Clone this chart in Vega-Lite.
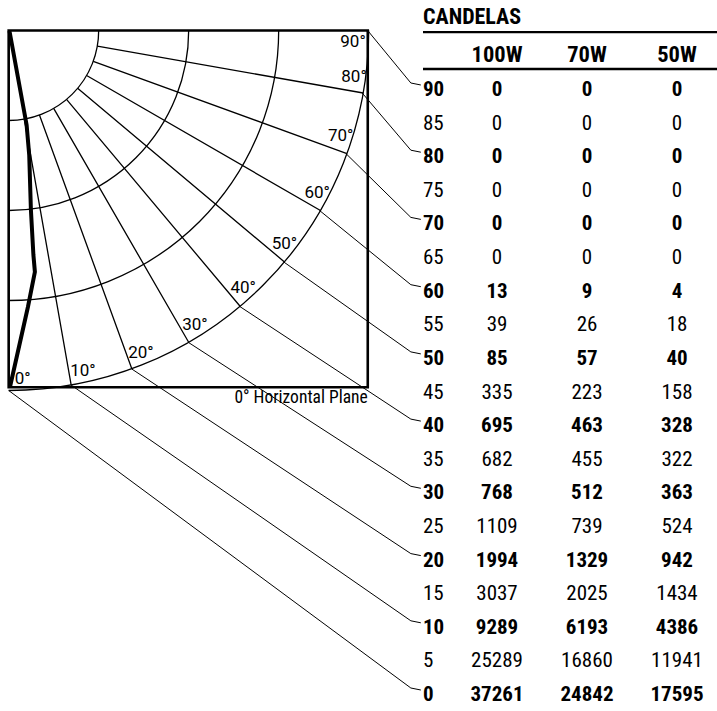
{
  "$schema": "https://vega.github.io/schema/vega-lite/v6.json",
  "width": 717,
  "height": 711,
  "padding": 0,
  "autosize": {"type": "fit", "contains": "padding"},
  "config": {"view": {"stroke": null}},
  "datasets": {
    "table": [
      {"angle": 90, "100W": 0, "70W": 0, "50W": 0},
      {"angle": 85, "100W": 0, "70W": 0, "50W": 0},
      {"angle": 80, "100W": 0, "70W": 0, "50W": 0},
      {"angle": 75, "100W": 0, "70W": 0, "50W": 0},
      {"angle": 70, "100W": 0, "70W": 0, "50W": 0},
      {"angle": 65, "100W": 0, "70W": 0, "50W": 0},
      {"angle": 60, "100W": 13, "70W": 9, "50W": 4},
      {"angle": 55, "100W": 39, "70W": 26, "50W": 18},
      {"angle": 50, "100W": 85, "70W": 57, "50W": 40},
      {"angle": 45, "100W": 335, "70W": 223, "50W": 158},
      {"angle": 40, "100W": 695, "70W": 463, "50W": 328},
      {"angle": 35, "100W": 682, "70W": 455, "50W": 322},
      {"angle": 30, "100W": 768, "70W": 512, "50W": 363},
      {"angle": 25, "100W": 1109, "70W": 739, "50W": 524},
      {"angle": 20, "100W": 1994, "70W": 1329, "50W": 942},
      {"angle": 15, "100W": 3037, "70W": 2025, "50W": 1434},
      {"angle": 10, "100W": 9289, "70W": 6193, "50W": 4386},
      {"angle": 5, "100W": 25289, "70W": 16860, "50W": 11941},
      {"angle": 0, "100W": 37261, "70W": 24842, "50W": 17595}
    ],
    "lamps": [{"lamp": "100W"}, {"lamp": "70W"}, {"lamp": "50W"}],
    "rings": [{"r": 1}, {"r": 2}, {"r": 3}, {"r": 4}],
    "spokes": [{"deg": 10}, {"deg": 20}, {"deg": 30}, {"deg": 40}, {"deg": 50}, {"deg": 60}, {"deg": 70}, {"deg": 80}],
    "labels": [
      {"deg": 0, "label": "0°"}, {"deg": 10, "label": "10°"}, {"deg": 20, "label": "20°"},
      {"deg": 30, "label": "30°"}, {"deg": 40, "label": "40°"}, {"deg": 50, "label": "50°"},
      {"deg": 60, "label": "60°"}, {"deg": 70, "label": "70°"}, {"deg": 80, "label": "80°"}
    ],
    "leaders": [
      {"deg": 0, "ax": 0, "ay": -4, "ey": -7.3056},
      {"deg": 10, "ax": 0.6946, "ay": -3.9392, "ey": -6.5589},
      {"deg": 20, "ax": 1.3681, "ay": -3.7588, "ey": -5.8122},
      {"deg": 30, "ax": 2.0, "ay": -3.4641, "ey": -5.0644},
      {"deg": 40, "ax": 2.5712, "ay": -3.0642, "ey": -4.3178},
      {"deg": 50, "ax": 3.0642, "ay": -2.5712, "ey": -3.5711},
      {"deg": 60, "ax": 3.4641, "ay": -2.0, "ey": -2.8244},
      {"deg": 70, "ax": 3.7588, "ay": -1.3681, "ey": -2.0767},
      {"deg": 80, "ax": 3.9392, "ay": -0.6946, "ey": -1.33},
      {"deg": 90, "ax": 4.0, "ay": 0, "ey": -0.5833}
    ],
    "curve": [
      {"i": 1, "x": 0.0089, "y": -0.0056},
      {"i": 2, "x": 0.2, "y": -1.05},
      {"i": 3, "x": 0.2289, "y": -1.3833},
      {"i": 4, "x": 0.2478, "y": -1.9944},
      {"i": 5, "x": 0.2756, "y": -2.4944},
      {"i": 6, "x": 0.2922, "y": -2.6833},
      {"i": 7, "x": 0.2144, "y": -3.0722},
      {"i": 8, "x": 0.0144, "y": -3.9611}
    ]
  },
  "resolve": {"scale": {"x": "independent", "y": "independent"}},
  "layer": [
    {
      "resolve": {"scale": {"theta": "independent"}},
      "layer": [
        {
          "data": {"name": "leaders"},
          "mark": {"type": "rule", "stroke": "black", "strokeWidth": 1},
          "encoding": {
            "x": {"field": "ax", "type": "quantitative", "scale": {"domain": [-0.09667, 7.87], "nice": false, "zero": false}, "axis": null},
            "y": {"field": "ay", "type": "quantitative", "scale": {"domain": [-7.5611, 0.33889], "nice": false, "zero": false}, "axis": null},
            "x2": {"datum": 4.4811},
            "y2": {"field": "ey"}
          }
        },
        {
          "data": {"name": "leaders"},
          "mark": {"type": "rule", "stroke": "black", "strokeWidth": 1, "y2Offset": 2},
          "encoding": {
            "x": {"datum": 4.4811, "type": "quantitative", "scale": {"domain": [-0.09667, 7.87], "nice": false, "zero": false}, "axis": null},
            "x2": {"datum": 4.5922},
            "y": {"field": "ey", "type": "quantitative", "scale": {"domain": [-7.5611, 0.33889], "nice": false, "zero": false}, "axis": null},
            "y2": {"field": "ey"}
          }
        },
        {
          "data": {"name": "rings"},
          "mark": {"type": "arc", "filled": false, "stroke": "black", "strokeWidth": 1.3},
          "encoding": {
            "x": {"datum": 0, "type": "quantitative", "scale": {"domain": [-0.09667, 7.87], "nice": false, "zero": false}, "axis": null},
            "y": {"datum": 0, "type": "quantitative", "scale": {"domain": [-7.5611, 0.33889], "nice": false, "zero": false}, "axis": null},
            "theta": {"datum": 0, "type": "quantitative", "scale": {"domain": [0, 90], "range": [3.14159, 1.5708], "zero": false, "nice": false}},
            "theta2": {"datum": 90},
            "radius": {"field": "r", "type": "quantitative", "stack": null, "scale": {"type": "linear", "domain": [0, 4], "range": [0, 360], "zero": true, "nice": false}},
            "radius2": {"field": "r"}
          }
        },
        {
          "data": {"name": "spokes"},
          "mark": {"type": "arc", "filled": false, "stroke": "black", "strokeWidth": 1.3},
          "encoding": {
            "x": {"datum": 0, "type": "quantitative", "scale": {"domain": [-0.09667, 7.87], "nice": false, "zero": false}, "axis": null},
            "y": {"datum": 0, "type": "quantitative", "scale": {"domain": [-7.5611, 0.33889], "nice": false, "zero": false}, "axis": null},
            "theta": {"field": "deg", "type": "quantitative", "stack": null, "scale": {"domain": [0, 90], "range": [3.14159, 1.5708], "zero": false, "nice": false}},
            "theta2": {"field": "deg"},
            "radius": {"datum": 1, "type": "quantitative", "scale": {"type": "linear", "domain": [0, 4], "range": [0, 360], "zero": true, "nice": false}},
            "radius2": {"datum": 4}
          }
        },
        {
          "data": {"values": [{"shape": "box"}]},
          "mark": {"type": "rect", "filled": false, "stroke": "black", "strokeWidth": 2.6},
          "encoding": {
            "x": {"datum": 0, "type": "quantitative", "scale": {"domain": [-0.09667, 7.87], "nice": false, "zero": false}, "axis": null},
            "x2": {"datum": 4.001},
            "y": {"datum": 0, "type": "quantitative", "scale": {"domain": [-7.5611, 0.33889], "nice": false, "zero": false}, "axis": null},
            "y2": {"datum": -3.964}
          }
        },
        {
          "data": {"name": "curve"},
          "mark": {"type": "line", "stroke": "black", "strokeWidth": 4},
          "encoding": {
            "x": {"field": "x", "type": "quantitative", "scale": {"domain": [-0.09667, 7.87], "nice": false, "zero": false}, "axis": null},
            "y": {"field": "y", "type": "quantitative", "scale": {"domain": [-7.5611, 0.33889], "nice": false, "zero": false}, "axis": null},
            "order": {"field": "i", "type": "quantitative"}
          }
        },
        {
          "data": {"name": "labels"},
          "mark": {"type": "text", "font": "Roboto, Liberation Sans, sans-serif", "fontSize": 17, "align": "center", "baseline": "middle", "color": "black"},
          "encoding": {
            "x": {"datum": 0, "type": "quantitative", "scale": {"domain": [-0.09667, 7.87], "nice": false, "zero": false}, "axis": null},
            "y": {"datum": 0, "type": "quantitative", "scale": {"domain": [-7.5611, 0.33889], "nice": false, "zero": false}, "axis": null},
            "theta": {"field": "deg", "type": "quantitative", "stack": null, "scale": {"domain": [0, 90], "range": [3.1015, 1.5307], "zero": false, "nice": false}},
            "radius": {"datum": 3.872, "type": "quantitative", "scale": {"type": "linear", "domain": [0, 4], "range": [0, 360], "zero": true, "nice": false}},
            "text": {"field": "label"}
          }
        },
        {
          "data": {"values": [{"label": "90°"}]},
          "mark": {"type": "text", "font": "Roboto, Liberation Sans, sans-serif", "fontSize": 17, "align": "center", "baseline": "middle", "color": "black"},
          "encoding": {
            "x": {"datum": 3.8367, "type": "quantitative", "scale": {"domain": [-0.09667, 7.87], "nice": false, "zero": false}, "axis": null},
            "y": {"datum": -0.1278, "type": "quantitative", "scale": {"domain": [-7.5611, 0.33889], "nice": false, "zero": false}, "axis": null},
            "text": {"field": "label"}
          }
        },
        {
          "data": {"values": [{"label": "0° Horizontal Plane"}]},
          "mark": {"type": "text", "font": "Roboto Condensed, Liberation Sans Narrow, Roboto, sans-serif", "fontSize": 17.5, "align": "right", "baseline": "middle", "color": "black"},
          "encoding": {
            "x": {"datum": 4.001, "type": "quantitative", "scale": {"domain": [-0.09667, 7.87], "nice": false, "zero": false}, "axis": null},
            "y": {"datum": -4.0833, "type": "quantitative", "scale": {"domain": [-7.5611, 0.33889], "nice": false, "zero": false}, "axis": null},
            "text": {"field": "label"}
          }
        }
      ]
    },
    {
      "layer": [
        {
          "data": {"name": "table"},
          "transform": [
            {"fold": ["100W", "70W", "50W"], "as": ["lamp", "cd"]},
            {"filter": "datum.angle % 10 === 0"}
          ],
          "mark": {"type": "text", "font": "Roboto Condensed, Liberation Sans Narrow, Roboto, sans-serif", "fontSize": 21, "fontWeight": "bold", "align": "center", "baseline": "middle", "color": "black"},
          "encoding": {
            "x": {"field": "lamp", "type": "nominal", "scale": {"type": "point", "domain": ["angle", "100W", "70W", "50W"], "range": [407, 677], "padding": 0}, "axis": null},
            "y": {"field": "angle", "type": "quantitative", "scale": {"domain": [-2.38, 103.389], "nice": false, "zero": false}, "axis": null},
            "text": {"field": "cd", "type": "quantitative", "format": "d"}
          }
        },
        {
          "data": {"name": "table"},
          "transform": [
            {"fold": ["100W", "70W", "50W"], "as": ["lamp", "cd"]},
            {"filter": "datum.angle % 10 !== 0"}
          ],
          "mark": {"type": "text", "font": "Roboto Condensed, Liberation Sans Narrow, Roboto, sans-serif", "fontSize": 21, "fontWeight": "normal", "align": "center", "baseline": "middle", "color": "black"},
          "encoding": {
            "x": {"field": "lamp", "type": "nominal", "scale": {"type": "point", "domain": ["angle", "100W", "70W", "50W"], "range": [407, 677], "padding": 0}, "axis": null},
            "y": {"field": "angle", "type": "quantitative", "scale": {"domain": [-2.38, 103.389], "nice": false, "zero": false}, "axis": null},
            "text": {"field": "cd", "type": "quantitative", "format": "d"}
          }
        },
        {
          "data": {"name": "table"},
          "transform": [{"filter": "datum.angle % 10 === 0"}],
          "mark": {"type": "text", "font": "Roboto Condensed, Liberation Sans Narrow, Roboto, sans-serif", "fontSize": 21, "fontWeight": "bold", "align": "left", "baseline": "middle", "dx": 16, "color": "black"},
          "encoding": {
            "x": {"datum": "angle", "type": "nominal", "scale": {"type": "point", "domain": ["angle", "100W", "70W", "50W"], "range": [407, 677], "padding": 0}, "axis": null},
            "y": {"field": "angle", "type": "quantitative", "scale": {"domain": [-2.38, 103.389], "nice": false, "zero": false}, "axis": null},
            "text": {"field": "angle", "type": "quantitative", "format": "d"}
          }
        },
        {
          "data": {"name": "table"},
          "transform": [{"filter": "datum.angle % 10 !== 0"}],
          "mark": {"type": "text", "font": "Roboto Condensed, Liberation Sans Narrow, Roboto, sans-serif", "fontSize": 21, "fontWeight": "normal", "align": "left", "baseline": "middle", "dx": 16, "color": "black"},
          "encoding": {
            "x": {"datum": "angle", "type": "nominal", "scale": {"type": "point", "domain": ["angle", "100W", "70W", "50W"], "range": [407, 677], "padding": 0}, "axis": null},
            "y": {"field": "angle", "type": "quantitative", "scale": {"domain": [-2.38, 103.389], "nice": false, "zero": false}, "axis": null},
            "text": {"field": "angle", "type": "quantitative", "format": "d"}
          }
        },
        {
          "data": {"name": "lamps"},
          "mark": {"type": "text", "font": "Roboto Condensed, Liberation Sans Narrow, Roboto, sans-serif", "fontSize": 22.5, "fontWeight": "bold", "align": "center", "baseline": "middle", "color": "black"},
          "encoding": {
            "x": {"field": "lamp", "type": "nominal", "scale": {"type": "point", "domain": ["angle", "100W", "70W", "50W"], "range": [407, 677], "padding": 0}, "axis": null},
            "y": {"datum": 95.133, "type": "quantitative", "scale": {"domain": [-2.38, 103.389], "nice": false, "zero": false}, "axis": null},
            "text": {"field": "lamp"}
          }
        },
        {
          "data": {"values": [{"title": "CANDELAS"}]},
          "mark": {"type": "text", "font": "Roboto Condensed, Liberation Sans Narrow, Roboto, sans-serif", "fontSize": 22, "fontWeight": "bold", "align": "left", "baseline": "middle", "dx": 16, "color": "black"},
          "encoding": {
            "x": {"datum": "angle", "type": "nominal", "scale": {"type": "point", "domain": ["angle", "100W", "70W", "50W"], "range": [407, 677], "padding": 0}, "axis": null},
            "y": {"datum": 100.786, "type": "quantitative", "scale": {"domain": [-2.38, 103.389], "nice": false, "zero": false}, "axis": null},
            "text": {"field": "title"}
          }
        },
        {
          "data": {"values": [{"line": "top"}]},
          "mark": {"type": "rule", "stroke": "black", "strokeWidth": 2.2, "xOffset": 16, "x2Offset": 40},
          "encoding": {
            "x": {"datum": "angle", "type": "nominal", "scale": {"type": "point", "domain": ["angle", "100W", "70W", "50W"], "range": [407, 677], "padding": 0}, "axis": null},
            "x2": {"datum": "50W"},
            "y": {"datum": 98.599, "type": "quantitative", "scale": {"domain": [-2.38, 103.389], "nice": false, "zero": false}, "axis": null}
          }
        },
        {
          "data": {"values": [{"line": "header"}]},
          "mark": {"type": "rule", "stroke": "black", "strokeWidth": 2.4, "xOffset": 16, "x2Offset": 40},
          "encoding": {
            "x": {"datum": "angle", "type": "nominal", "scale": {"type": "point", "domain": ["angle", "100W", "70W", "50W"], "range": [407, 677], "padding": 0}, "axis": null},
            "x2": {"datum": "50W"},
            "y": {"datum": 93.125, "type": "quantitative", "scale": {"domain": [-2.38, 103.389], "nice": false, "zero": false}, "axis": null}
          }
        }
      ]
    }
  ]
}
